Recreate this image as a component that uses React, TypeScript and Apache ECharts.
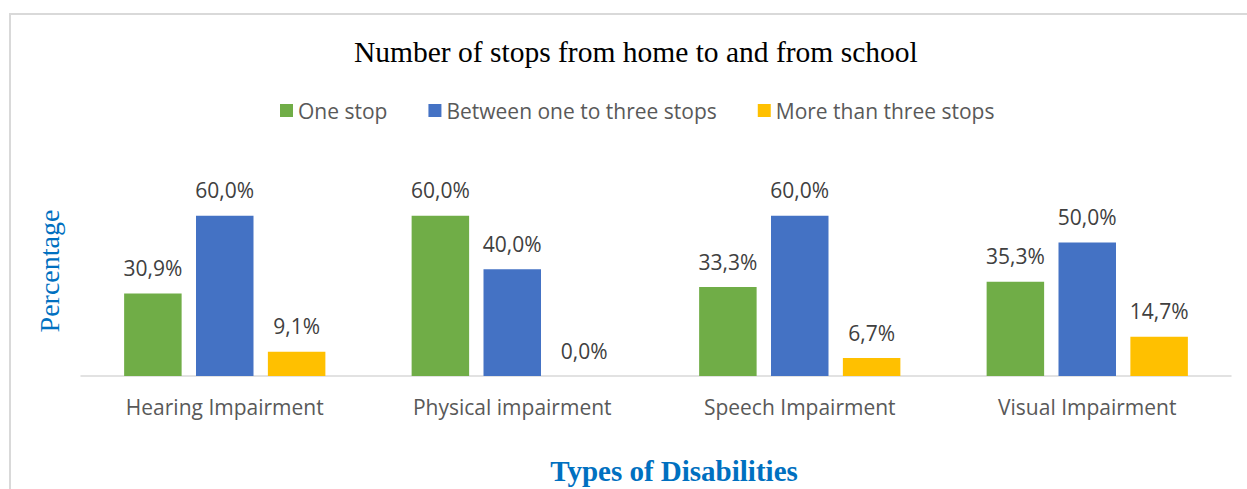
import React, { useEffect, useRef } from "react";
import * as echarts from "echarts";

const categories = ["Hearing Impairment", "Physical impairment", "Speech Impairment", "Visual Impairment"];
const seriesNames = ["One stop", "Between one to three stops", "More than three stops"];
const oneStop = [30.9, 60.0, 33.3, 35.3];
const oneToThree = [60.0, 40.0, 60.0, 50.0];
const moreThanThree = [9.1, 0.0, 6.7, 14.7];
const colors = ["#70ad47", "#4472c4", "#ffc000"];

const SANS = "'Open Sans', 'Noto Sans', sans-serif";
const SERIF = "'Liberation Serif', 'Times New Roman', serif";

export default function App() {
  const ref = useRef<HTMLDivElement>(null);
  useEffect(() => {
    if (!ref.current) return;
    const chart = echarts.init(ref.current, undefined, { renderer: "svg" });
    const values = [oneStop, oneToThree, moreThanThree];
    chart.setOption({
      animation: false,
      backgroundColor: "#ffffff",
      title: {
        text: "Number of stops from home to and from school",
        left: 349,
        top: 32,
        textStyle: { fontFamily: SERIF, fontSize: 29.5, fontWeight: "normal", color: "#000000" },
      },
      legend: {
        top: 95,
        left: 275,
        itemWidth: 13,
        itemHeight: 13,
        itemGap: 41,
        icon: "rect",
        textStyle: { fontFamily: SANS, fontSize: 21, color: "#595959" },
        data: seriesNames,
      },
      grid: { left: 81, right: 16, top: 109, bottom: 113 },
      xAxis: {
        type: "category",
        data: categories,
        axisLine: { lineStyle: { color: "#d9d9d9", width: 1.5 } },
        axisTick: { show: false },
        axisLabel: { fontFamily: SANS, fontSize: 21, color: "#595959", margin: 20 },
      },
      yAxis: {
        type: "value",
        min: 0,
        max: 100,
        show: false,
      },
      graphic: [
        {
          type: "rect",
          shape: { x: 10, y: 14, width: 1300, height: 600 },
          style: { fill: "none", stroke: "#d9d9d9", lineWidth: 2 },
          silent: true,
        },
        {
          type: "text",
          x: 49,
          y: 271,
          rotation: Math.PI / 2,
          style: {
            text: "Percentage",
            fontFamily: SERIF,
            fontSize: 28,
            fill: "#0070c0",
            align: "center",
            verticalAlign: "middle",
          },
        },
        {
          type: "text",
          x: 674,
          y: 471,
          style: {
            text: "Types of Disabilities",
            fontFamily: SERIF,
            fontSize: 29,
            fontWeight: "bold",
            fill: "#0070c0",
            align: "center",
            verticalAlign: "middle",
          },
        },
      ],
      series: seriesNames.map((name, i) => ({
        name,
        type: "bar",
        data: values[i],
        barGap: "25%",
        barCategoryGap: "30%",
        itemStyle: { color: colors[i] },
        label: {
          show: true,
          position: "top",
          distance: 15,
          fontFamily: SANS,
          fontSize: 21,
          color: "#404040",
          formatter: (p: any) => p.value.toFixed(1).replace(".", ",") + "%",
        },
      })),
    });
    return () => chart.dispose();
  }, []);
  return (
    <div
      ref={ref}
      style={{ position: "fixed", left: 0, top: 0, width: 1247, height: 489 }}
    />
  );
}
